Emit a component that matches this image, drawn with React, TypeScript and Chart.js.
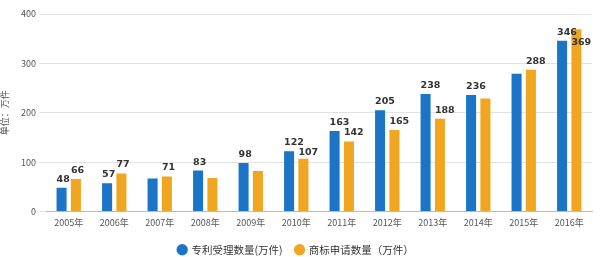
import React, { useEffect, useRef } from "react";
import { Chart, registerables } from "chart.js";

Chart.register(...registerables);

const categories = ["2005年", "2006年", "2007年", "2008年", "2009年", "2010年", "2011年", "2012年", "2013年", "2014年", "2015年", "2016年"];
const patentValues = [48, 57, 67, 83, 98, 122, 163, 205, 238, 236, 279, 346];
const trademarkValues = [66, 77, 71, 68, 82, 107, 142, 165, 188, 229, 287, 369];
const patentLabels: (number | null)[] = [48, 57, null, 83, 98, 122, 163, 205, 238, 236, null, 346];
const trademarkLabels: (number | null)[] = [66, 77, 71, null, null, 107, 142, 165, 188, null, 288, 369];
const yTicks = [0, 100, 200, 300, 400];

const BLUE = "#1b74c6";
const ORANGE = "#f0a620";

const labelPlugin = {
  id: "barLabels",
  afterDatasetsDraw(chart: any) {
    const ctx = chart.ctx;
    const lists = [patentLabels, trademarkLabels];
    ctx.save();
    ctx.font = "bold 9.5px 'DejaVu Sans'";
    ctx.fillStyle = "#333333";
    ctx.textAlign = "left";
    ctx.textBaseline = "alphabetic";
    const h = 8;
    for (let i = 0; i < categories.length; i++) {
      let prev: { x1: number; x2: number; y1: number; y2: number } | null = null;
      for (let d = 0; d < 2; d++) {
        const v = lists[d][i];
        if (v === null) continue;
        const bar = chart.getDatasetMeta(d).data[i];
        const w = bar.width;
        const left = bar.x - w / 2;
        const text = String(v);
        const tw = ctx.measureText(text).width;
        let base = bar.y - 6;
        let r = { x1: left, x2: left + tw, y1: base - h, y2: base };
        if (prev && r.x1 < prev.x2 && r.x2 > prev.x1 && r.y1 < prev.y2 + 6 && r.y2 > prev.y1 - 6) {
          base = prev.y2 + 2 + h;
          r = { x1: left, x2: left + tw, y1: base - h, y2: base };
        }
        ctx.fillText(text, left, base);
        prev = r;
      }
    }
    ctx.restore();
  },
};

export default function App() {
  const ref = useRef<HTMLCanvasElement>(null);
  useEffect(() => {
    if (!ref.current) return;
    const chart = new Chart(ref.current, {
      type: "bar",
      data: {
        labels: categories,
        datasets: [
          { label: "专利受理数量(万件)", data: patentValues, backgroundColor: BLUE, categoryPercentage: 0.63, barPercentage: 0.7 },
          { label: "商标申请数量（万件）", data: trademarkValues, backgroundColor: ORANGE, categoryPercentage: 0.63, barPercentage: 0.7 },
        ],
      },
      options: {
        animation: false,
        responsive: false,
        maintainAspectRatio: false,
        layout: { padding: { top: 14, right: 8, left: 0, bottom: -8 } },
        plugins: {
          tooltip: { enabled: false },
          legend: {
            position: "bottom",
            labels: {
              usePointStyle: true,
              pointStyle: "circle",
              boxWidth: 8,
              boxHeight: 8,
              padding: 13,
              color: "#333333",
              font: { size: 10.5, family: "'Noto Sans CJK SC'" },
            },
          },
        },
        scales: {
          x: {
            afterFit: (s: any) => { s.height = 20; },
            grid: { display: false, drawTicks: false },
            border: { display: true, color: "#bbbbbb" },
            ticks: { color: "#555555", padding: 6, font: { size: 9, family: "'Noto Sans CJK SC'" } },
          },
          y: {
            min: 0,
            max: 400,
            afterFit: (s: any) => { s.width = 46; },
            afterBuildTicks: (s: any) => { s.ticks = yTicks.map((v) => ({ value: v })); },
            grid: { color: "#e2e2e2", tickLength: 7 },
            border: { display: false },
            ticks: { color: "#555555", padding: 3, font: { size: 9, family: "'Noto Sans CJK SC'" } },
            title: {
              display: true,
              text: "单位：万件",
              color: "#555555",
              padding: 0,
              font: { size: 9, family: "'Noto Sans CJK SC'", lineHeight: 1 },
            },
          },
        },
      },
      plugins: [labelPlugin],
    });
    return () => chart.destroy();
  }, []);
  return (
    <div style={{ position: "fixed", left: 0, top: 0, width: 600, height: 257, background: "#ffffff" }}>
      <canvas ref={ref} width={600} height={257} style={{ width: 600, height: 257 }} />
    </div>
  );
}
